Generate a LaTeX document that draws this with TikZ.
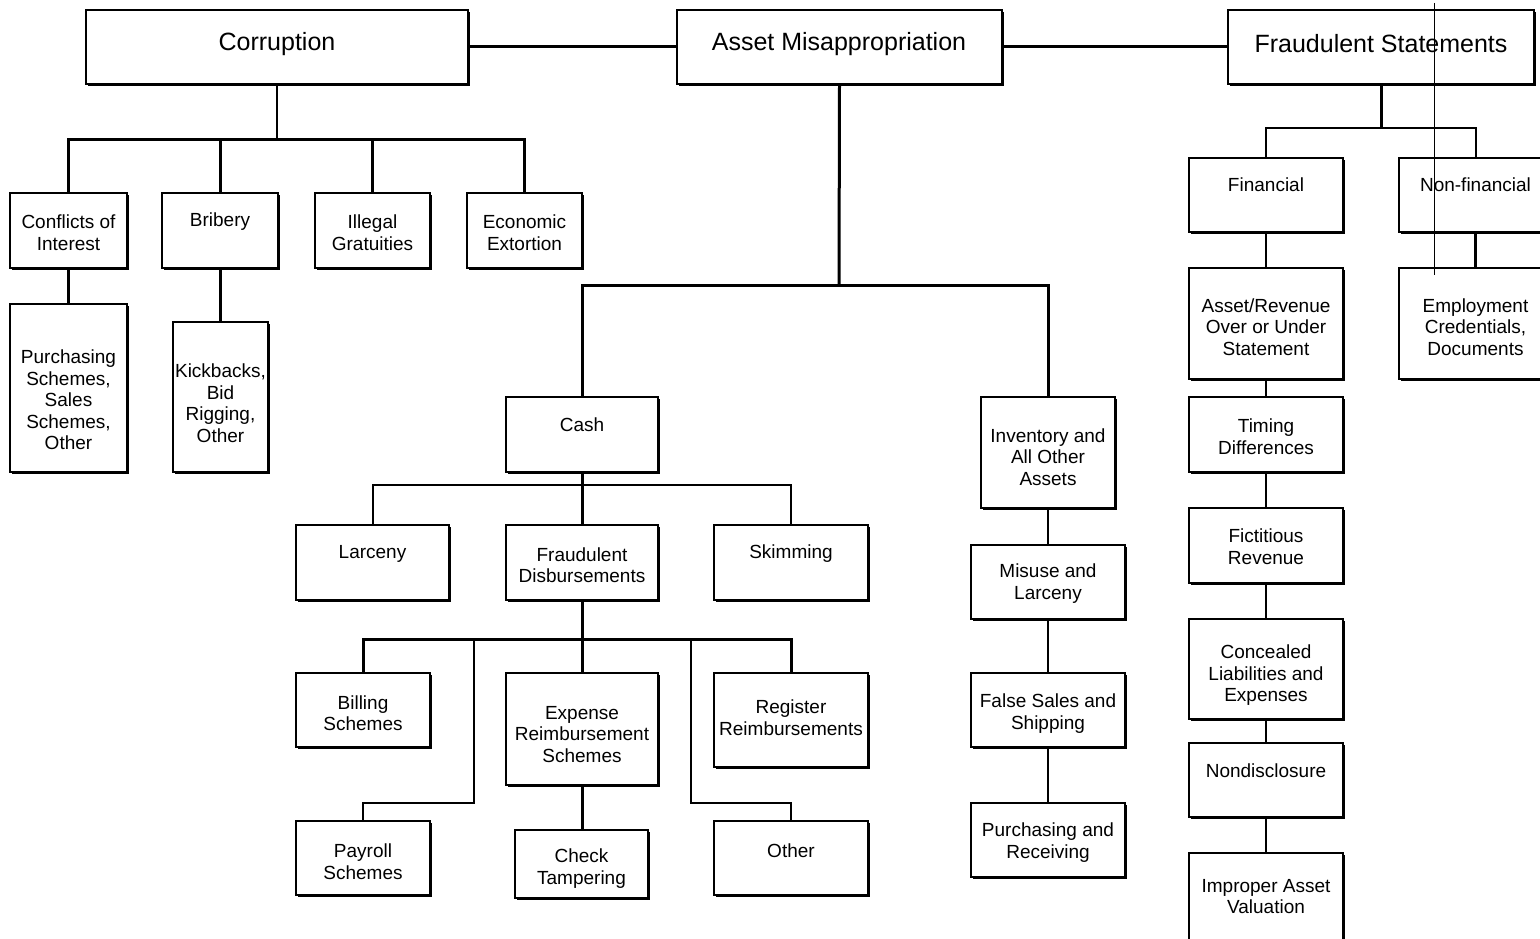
\documentclass[tikz,border=0pt]{standalone}
\usepackage{fontspec}
\setmainfont{Liberation Sans}
\usetikzlibrary{fit,shadows}
\newcommand\mybox[7]{%
  \coordinate (#1-a) at (#2,#3);
  \coordinate (#1-b) at (#4,#5);
  \node[box, fit=(#1-a)(#1-b)] (#1) {};
  \pgfmathsetmacro\cxv{(#2+#4)/2}
  \node[txt] (#1-t) at (\cxv,#6) {#7};
}
\tikzset{
  box/.style={draw=black, fill=white, line width=2.4pt, inner sep=0pt, outer sep=0pt,
    general shadow={fill=black, shadow xshift=1.8pt, shadow yshift=-1.8pt}},
  txt/.style={align=center, inner sep=0pt, font=\fontsize{19}{21.5}\selectfont},
  ttxt/.style={align=center, inner sep=0pt, font=\fontsize{25}{28}\selectfont},
  thk/.style={line width=3pt, line cap=butt},
  thn/.style={line width=2pt, line cap=butt},
}
\begin{document}
\begin{tikzpicture}[x=1pt,y=-1pt]
\useasboundingbox[fill=white] (0,0) rectangle (1540,939);
% top level
\coordinate (corr-a) at (86,10); \coordinate (corr-b) at (468,84);
\node[box, fit=(corr-a)(corr-b)] (corr) {};
\node[ttxt] (corr-t) at (277,44) {Corruption};
\coordinate (am-a) at (677,10); \coordinate (am-b) at (1002,84);
\node[box, fit=(am-a)(am-b)] (am) {};
\node[ttxt] (am-t) at (839,44) {Asset Misappropriation};
\coordinate (fs-a) at (1228,10); \coordinate (fs-b) at (1534,84);
\node[box, fit=(fs-a)(fs-b)] (fs) {};
\node[ttxt] (fs-t) at (1381,44) {Fraudulent Statements};
% corruption branch
\mybox{coi}{10}{193}{127}{268}{232.5}{Conflicts of\\Interest}
\mybox{bri}{162}{193}{278}{268}{222}{Bribery}
\mybox{ill}{315}{193}{430}{268}{232.5}{Illegal\\Gratuities}
\mybox{eco}{467}{193}{582}{268}{232.5}{Economic\\Extortion}
\mybox{pur}{10}{304}{127}{472}{400}{Purchasing\\Schemes,\\Sales\\Schemes,\\Other}
\mybox{kic}{173}{322}{268}{472}{403}{Kickbacks,\\Bid\\Rigging,\\Other}
% asset misappropriation branch
\mybox{cash}{506}{397}{658}{472}{425}{Cash}
\mybox{lar}{296}{525}{449}{600}{554}{Larceny}
\mybox{fd}{506}{525}{658}{600}{565}{Fraudulent\\Disbursements}
\mybox{ski}{714}{525}{868}{600}{554}{Skimming}
\mybox{bil}{296}{673}{430}{747}{713}{Billing\\Schemes}
\mybox{exp}{506}{673}{658}{785}{734.5}{Expense\\Reimbursement\\Schemes}
\mybox{reg}{714}{673}{868}{767}{717.5}{Register\\Reimbursements}
\mybox{pay}{296}{821}{430}{895}{861.5}{Payroll\\Schemes}
\mybox{chk}{515}{830}{648}{898}{868.5}{Check\\Tampering}
\mybox{oth}{714}{821}{868}{895}{851}{Other}
\mybox{inv}{981}{397}{1115}{508}{457}{Inventory and\\All Other\\Assets}
\mybox{mis}{971}{545}{1125}{619}{583.5}{Misuse and\\Larceny}
\mybox{fal}{971}{673}{1125}{747}{713.5}{False Sales and\\Shipping}
\mybox{prc}{971}{803}{1125}{877}{842.5}{Purchasing and\\Receiving}
% fraudulent statements branch
\mybox{fin}{1189}{158}{1343}{232}{185}{Financial}
\mybox{nfin}{1399}{158}{1552}{232}{185}{Non-financial}
\mybox{arv}{1189}{268}{1343}{379}{327}{Asset/Revenue\\Over or Under\\Statement}
\mybox{emp}{1399}{268}{1552}{379}{327}{Employment\\Credentials,\\Documents}
\mybox{tim}{1189}{397}{1343}{472}{436.5}{Timing\\Differences}
\mybox{fic}{1189}{508}{1343}{583}{546.5}{Fictitious\\Revenue}
\mybox{con}{1189}{619}{1343}{719}{675.5}{Concealed\\Liabilities and\\Expenses}
\mybox{nod}{1189}{743}{1343}{817}{771}{Nondisclosure}
\mybox{imp}{1189}{853}{1343}{948}{896.5}{Improper Asset\\Valuation}
% connectors top
\draw[thk] (corr.east) -- (am.west);
\draw[thk] (am.east) -- (fs.west);
% corruption
\coordinate (cbar) at (277,140);
\draw[thn] (corr.south) -- (cbar);
\draw[thk] (cbar) -| (coi.north);
\draw[thk] (cbar) -| (bri.north);
\draw[thk] (cbar) -| (ill.north);
\draw[thk] (cbar) -| (eco.north);
\draw[thk] (coi.south) -- (coi.south |- pur.north);
\draw[thk] (bri.south) -- (bri.south |- kic.north);
% asset misappropriation
\coordinate (abar) at (839,285);
\draw[thk] (am.south) -- (abar);
\draw[thk] (abar) -| (cash.north);
\draw[thk] (abar) -| (inv.north);
\coordinate (kbar) at (581,485);
\draw[thk] (cash.south) -- (fd.north);
\draw[thn] (kbar) -| (lar.north);
\draw[thn] (kbar) -| (ski.north);
\coordinate (dbar) at (581,639);
\draw[thk] (dbar) -| (bil.north);
\draw[thk] (dbar) -| (reg.north);
\draw[thk] (fd.south) -- (exp.north);
\coordinate (pb) at (474,639);
\coordinate (ob) at (691,639);
\draw[thn] (pb) -- (pb |- 0,803) -| (pay.north);
\draw[thn] (ob) -- (ob |- 0,803) -| (oth.north);
\draw[thk] (exp.south) -- (exp.south |- chk.north);
\draw[thn] (inv.south) -- (mis.north);
\draw[thn] (mis.south) -- (fal.north);
\draw[thn] (fal.south) -- (prc.north);
% fraudulent statements
\coordinate (fbar) at (1381,128);
\draw[thk] (fs.south) -- (fbar);
\draw[thn] (fbar) -| (fin.north);
\draw[thn] (fbar) -| (nfin.north);
\draw[thn] (fin.south) -- (arv.north);
\draw[thk] (nfin.south) -- (emp.north);
\draw[thn] (arv.south) -- (tim.north);
\draw[thn] (tim.south) -- (fic.north);
\draw[thn] (fic.south) -- (con.north);
\draw[thn] (con.south) -- (nod.north);
\draw[thn] (nod.south) -- (imp.north);
% thin vertical stroke
\coordinate (vs1) at (1434,3);
\coordinate (vs2) at (1434,275);
\draw[line width=1pt] (vs1) -- (vs2);
\end{tikzpicture}
\end{document}
